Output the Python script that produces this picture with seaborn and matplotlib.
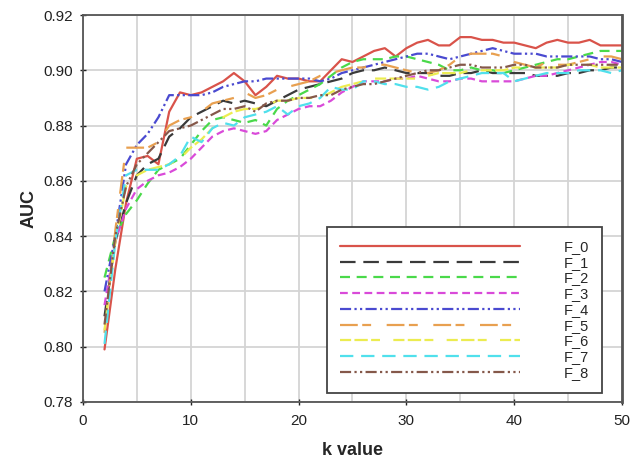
import numpy as np
import pandas as pd
import seaborn as sns
import matplotlib.pyplot as plt
from matplotlib.ticker import MultipleLocator

sns.set_theme(style="whitegrid")
plt.rcParams["font.family"] = ["Liberation Sans", "DejaVu Sans"]

# k values 2..50
k_values = list(range(2, 51))

f0 = [0.799, 0.828, 0.852, 0.868, 0.869, 0.866, 0.885, 0.892, 0.891, 0.892,
      0.894, 0.896, 0.899, 0.896, 0.891, 0.894, 0.898, 0.897, 0.897, 0.896,
      0.896, 0.900, 0.904, 0.903, 0.905, 0.907, 0.908, 0.905, 0.908, 0.910,
      0.911, 0.909, 0.909, 0.912, 0.912, 0.911, 0.911, 0.910, 0.910, 0.909,
      0.908, 0.910, 0.911, 0.910, 0.910, 0.911, 0.909, 0.909, 0.909]
f1 = [0.811, 0.838, 0.852, 0.862, 0.866, 0.868, 0.876, 0.879, 0.883, 0.885,
      0.887, 0.889, 0.888, 0.889, 0.888, 0.887, 0.889, 0.891, 0.893, 0.894,
      0.895, 0.896, 0.897, 0.899, 0.900, 0.900, 0.901, 0.900, 0.899, 0.899,
      0.899, 0.898, 0.898, 0.899, 0.899, 0.900, 0.899, 0.899, 0.899, 0.899,
      0.898, 0.898, 0.898, 0.899, 0.899, 0.900, 0.900, 0.901, 0.901]
f2 = [0.825, 0.840, 0.848, 0.853, 0.859, 0.864, 0.866, 0.868, 0.873, 0.878,
      0.882, 0.883, 0.882, 0.881, 0.882, 0.880, 0.886, 0.889, 0.891, 0.893,
      0.895, 0.898, 0.901, 0.903, 0.904, 0.904, 0.904, 0.905, 0.905, 0.904,
      0.903, 0.902, 0.900, 0.900, 0.901, 0.900, 0.900, 0.899, 0.900, 0.901,
      0.902, 0.903, 0.904, 0.904, 0.905, 0.906, 0.907, 0.907, 0.907]
f3 = [0.815, 0.838, 0.850, 0.857, 0.860, 0.862, 0.863, 0.865, 0.868, 0.872,
      0.876, 0.878, 0.879, 0.878, 0.877, 0.878, 0.882, 0.884, 0.886, 0.887,
      0.887, 0.889, 0.892, 0.894, 0.896, 0.896, 0.896, 0.897, 0.897, 0.898,
      0.897, 0.896, 0.896, 0.897, 0.897, 0.896, 0.896, 0.896, 0.896, 0.897,
      0.898, 0.898, 0.899, 0.900, 0.901, 0.902, 0.903, 0.903, 0.902]
f4 = [0.820, 0.840, 0.866, 0.873, 0.877, 0.883, 0.891, 0.891, 0.891, 0.891,
      0.892, 0.894, 0.895, 0.896, 0.896, 0.897, 0.897, 0.897, 0.897, 0.897,
      0.896, 0.897, 0.899, 0.900, 0.901, 0.902, 0.903, 0.904, 0.905, 0.906,
      0.906, 0.905, 0.904, 0.905, 0.906, 0.907, 0.908, 0.907, 0.906, 0.906,
      0.906, 0.905, 0.905, 0.905, 0.905, 0.905, 0.904, 0.904, 0.903]
f5 = [0.805, 0.842, 0.872, 0.872, 0.872, 0.874, 0.880, 0.882, 0.883, 0.885,
      0.888, 0.889, 0.890, 0.892, 0.890, 0.891, 0.893, 0.894, 0.895, 0.896,
      0.898, 0.899, 0.900, 0.901, 0.901, 0.902, 0.902, 0.901, 0.900, 0.899,
      0.899, 0.900, 0.902, 0.905, 0.906, 0.906, 0.906, 0.905, 0.903, 0.902,
      0.901, 0.903, 0.902, 0.902, 0.903, 0.904, 0.905, 0.905, 0.904]
f6 = [0.806, 0.838, 0.858, 0.862, 0.864, 0.865, 0.866, 0.868, 0.872, 0.875,
      0.879, 0.883, 0.885, 0.886, 0.886, 0.887, 0.889, 0.889, 0.890, 0.890,
      0.890, 0.892, 0.894, 0.895, 0.896, 0.897, 0.897, 0.897, 0.897, 0.897,
      0.898, 0.899, 0.899, 0.899, 0.900, 0.900, 0.900, 0.900, 0.901, 0.901,
      0.901, 0.901, 0.901, 0.902, 0.902, 0.902, 0.901, 0.901, 0.901]
f7 = [0.801, 0.838, 0.862, 0.864, 0.864, 0.864, 0.866, 0.869, 0.876, 0.874,
      0.879, 0.881, 0.880, 0.883, 0.884, 0.885, 0.887, 0.884, 0.887, 0.888,
      0.890, 0.894, 0.893, 0.893, 0.896, 0.896, 0.895, 0.895, 0.894, 0.894,
      0.893, 0.894, 0.896, 0.897, 0.898, 0.899, 0.899, 0.899, 0.896, 0.897,
      0.898, 0.899, 0.899, 0.899, 0.900, 0.900, 0.900, 0.899, 0.900]
f8 = [0.808, 0.840, 0.858, 0.866, 0.870, 0.874, 0.878, 0.879, 0.880, 0.882,
      0.884, 0.886, 0.886, 0.887, 0.885, 0.888, 0.889, 0.889, 0.890, 0.890,
      0.891, 0.891, 0.893, 0.894, 0.895, 0.895, 0.896, 0.897, 0.898, 0.899,
      0.900, 0.900, 0.901, 0.902, 0.902, 0.901, 0.901, 0.901, 0.902, 0.902,
      0.901, 0.901, 0.901, 0.902, 0.902, 0.902, 0.902, 0.902, 0.902]

names = ["F_0", "F_1", "F_2", "F_3", "F_4", "F_5", "F_6", "F_7", "F_8"]
series = [f0, f1, f2, f3, f4, f5, f6, f7, f8]

colors = {
    "F_0": "#d9534a", "F_1": "#3a3a3a", "F_2": "#4ad94a",
    "F_3": "#d94ad9", "F_4": "#4a4ad0", "F_5": "#e8a050",
    "F_6": "#ecec50", "F_7": "#50e0ec", "F_8": "#85584a",
}
dashes = {
    "F_0": "", "F_1": (7, 3.5), "F_2": (4.5, 3), "F_3": (3.5, 2),
    "F_4": (5, 1.5, 1, 1.5, 1, 1.5), "F_5": (8, 2, 4, 7),
    "F_6": (5, 1.5, 6, 1.5, 4, 6), "F_7": (6, 3.5),
    "F_8": (5, 1.5, 1, 1.5, 1, 1.5),
}

frames = []
for n, vals in zip(names, series):
    frames.append(pd.DataFrame({"k": k_values, "AUC": vals, "feature": n}))
df = pd.concat(frames, ignore_index=True)

fig = plt.figure(figsize=(6.38, 4.69), dpi=100)
ax = fig.add_axes([0.130, 0.143, 0.845, 0.825])

sns.lineplot(data=df, x="k", y="AUC", hue="feature", style="feature",
             palette=colors, dashes=dashes, linewidth=1.6, ax=ax)

ax.set_xlim(0, 50)
ax.set_ylim(0.78, 0.92)
ax.xaxis.set_major_locator(MultipleLocator(10))
ax.xaxis.set_minor_locator(MultipleLocator(5))
ax.yaxis.set_major_locator(MultipleLocator(0.02))
ax.yaxis.set_major_formatter(plt.FuncFormatter(lambda v, p: f"{v:.2f}"))
ax.grid(True, which="both", color="#d4d4d4", linewidth=1.3)
ax.set_axisbelow(True)

for side, sp in ax.spines.items():
    sp.set_color("#555555")
    sp.set_linewidth(1.3)
ax.spines["right"].set_linewidth(2)

ax.tick_params(axis="both", which="major", labelsize=11, colors="#222222",
               length=5, width=1, direction="inout", left=True, bottom=True)
ax.tick_params(axis="x", which="minor", length=0)
ax.tick_params(axis="x", pad=6)
ax.tick_params(axis="y", pad=5)

ax.set_xlabel("k value", fontsize=13, fontweight="bold", labelpad=10)
ax.set_ylabel("AUC", fontsize=13, fontweight="bold", labelpad=4)

handles, labels = ax.get_legend_handles_labels()
leg = ax.legend(handles, labels, loc="lower right",
                bbox_to_anchor=(0.963, 0.023), borderaxespad=0, fontsize=10.5,
                handlelength=12.3, handletextpad=3.0, labelspacing=0.12,
                borderpad=0.9, fancybox=False, framealpha=1,
                edgecolor="#444444")
leg.get_frame().set_linewidth(1.3)

fig.savefig("out.png", dpi=100)
